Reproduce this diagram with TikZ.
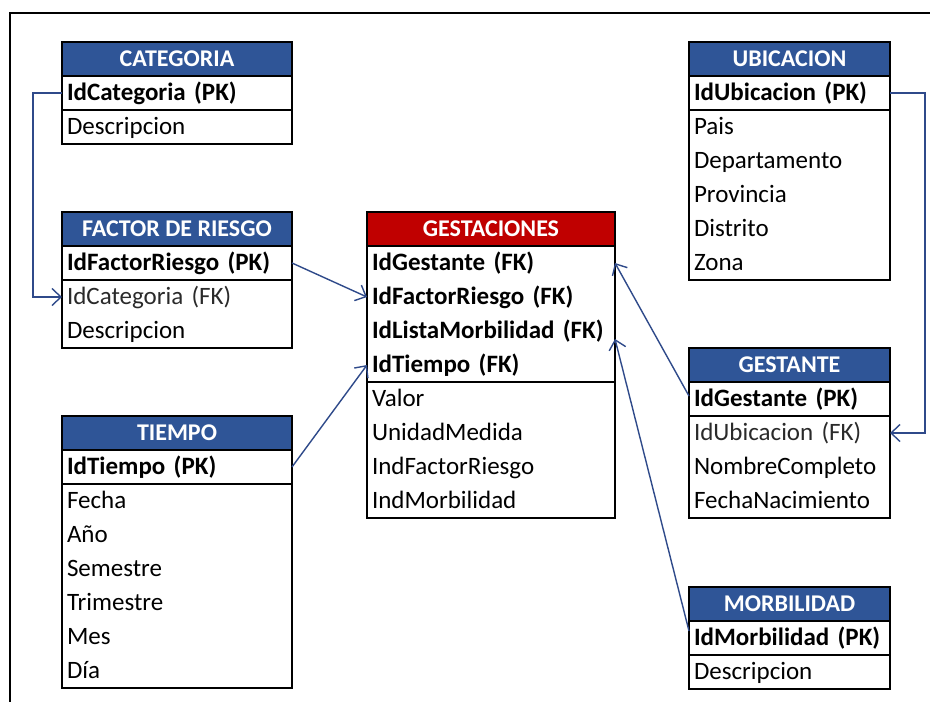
\documentclass[tikz,border=0pt]{standalone}
\usepackage{fontspec}
\setmainfont{Carlito}
\usetikzlibrary{arrows.meta}

\definecolor{hdrblue}{HTML}{2F5597}
\definecolor{hdrred}{HTML}{C00000}
\definecolor{linkblue}{HTML}{2F4A8A}
\definecolor{fkgray}{HTML}{2A2A2A}

\tikzset{
  tfont/.style={font=\fontsize{25}{27}\selectfont},
  hdr/.style={draw=black, line width=1.5pt, text=white, font=\fontsize{24}{26}\selectfont\bfseries,
              minimum height=34pt, inner sep=0pt, outer sep=0pt, anchor=north west,
              text height=19pt, text depth=4pt},
  cell/.style={inner xsep=5pt, inner ysep=0pt, outer sep=0pt, minimum height=34pt, align=left,
               anchor=north west, text height=19pt, text depth=5pt, tfont},
  keycell/.style={cell, font=\fontsize{25}{27}\selectfont\bfseries},
  tbl/.style={draw=black, line width=1.5pt},
  link/.style={draw=linkblue, line width=1.4pt, -{Straight Barb[length=9pt,width=17pt,line width=1.4pt]}},
  frame/.style={draw=black, line width=2pt},
}

% \ertable{name}{x}{y}{width}{header colour}{title}{no. of keys}{key rows}{other rows}
\newcommand{\ertable}[9]{%
  \pgfmathsetmacro{\ertw}{#4-10}
  \node[hdr, fill=#5, minimum width=#4pt] (#1-h) at (#2,#3) {#6};
  \foreach \t [count=\i] in {#8} {
    \node[keycell, text width=\ertw pt] (#1-k\i) at (#2,{#3+34*\i}) {\t};
  }
  \foreach \t [count=\i] in {#9} {
    \node[cell, text width=\ertw pt] (#1-r\i) at (#2,{#3+34*(#7+\i)}) {\t};
    \xdef\ernrows{\i}
  }
  \draw[tbl] (#1-h.north west) rectangle (#1-r\ernrows.south east);
  \draw[tbl] (#1-k#7.south west) -- (#1-k#7.south east);
}

\begin{document}
\begin{tikzpicture}[x=1pt,y=-1pt]
  \useasboundingbox (0,0) rectangle (930,702);
  \fill[white] (0,0) rectangle (930,702);
  \clip (0,0) rectangle (930,702);

  % outer frame (runs off the right and bottom edges)
  \draw[frame] (940,13) -- (10,13) -- (10,712);

  \ertable{cat}{62}{42}{230}{hdrblue}{CATEGORIA}{1}
    {IdCategoria (PK)}{Descripcion}
  \ertable{fac}{62}{212}{230}{hdrblue}{FACTOR DE RIESGO}{1}
    {IdFactorRiesgo (PK)}{{\color{fkgray}IdCategoria (FK)},Descripcion}
  \ertable{tie}{62}{416}{230}{hdrblue}{TIEMPO}{1}
    {IdTiempo (PK)}{Fecha,Año,Semestre,Trimestre,Mes,Día}
  \ertable{ges}{367}{212}{248}{hdrred}{GESTACIONES}{4}
    {IdGestante (FK),IdFactorRiesgo (FK),IdListaMorbilidad (FK),IdTiempo (FK)}
    {Valor,UnidadMedida,IndFactorRiesgo,IndMorbilidad}
  \ertable{ubi}{689}{42}{201}{hdrblue}{UBICACION}{1}
    {IdUbicacion (PK)}{Pais,Departamento,Provincia,Distrito,Zona}
  \ertable{gte}{689}{348}{201}{hdrblue}{GESTANTE}{1}
    {IdGestante (PK)}{{\color{fkgray}IdUbicacion (FK)},NombreCompleto,FechaNacimiento}
  \ertable{mor}{689}{587}{201}{hdrblue}{MORBILIDAD}{1}
    {IdMorbilidad (PK)}{Descripcion}

  % relationships
  \draw[link] (cat-k1.west) -- ++(-29,0) |- (fac-r1.west);
  \draw[link] (fac-k1.east) -- (ges-k2.west);
  \draw[link] (tie-k1.east) -- (ges-k4.west);
  \draw[link] ([yshift=3pt]gte-k1.west) -- (ges-k1.east);
  \draw[link] ([yshift=7pt]mor-k1.west) -- ([yshift=-8pt]ges-k3.east);
  \draw[link] (ubi-k1.east) -- ++(35,0) |- (gte-r1.east);
\end{tikzpicture}
\end{document}
